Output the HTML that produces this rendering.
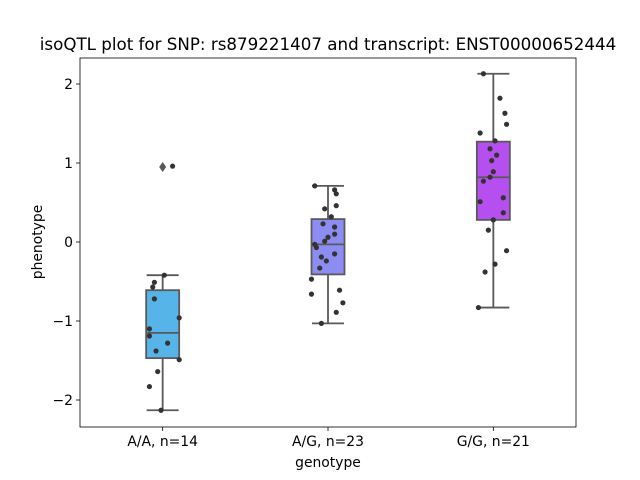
<!DOCTYPE html>
<html><head><meta charset="utf-8"><style>
html,body{margin:0;padding:0;background:#fff;}
svg{display:block;font-family:"DejaVu Sans","Liberation Sans",sans-serif;}
</style></head><body>
<svg id="chart" width="640" height="480" viewBox="0 0 640 480" xmlns="http://www.w3.org/2000/svg"></svg>
<script>
const categories = ["A/A, n=14", "A/G, n=23", "G/G, n=21"];
const colors = ["#56b4e9", "#8c8cf2", "#b64ff0"];
const q1 = [-1.47, -0.41, 0.28];
const medians = [-1.15, -0.03, 0.82];
const q3 = [-0.61, 0.29, 1.27];
const whiskLow = [-2.13, -1.03, -0.83];
const whiskHigh = [-0.42, 0.71, 2.13];
const outliers = [[0.95], [], []];
const values = [
 [0.96,-0.42,-0.51,-0.57,-0.72,-0.96,-1.10,-1.19,-1.28,-1.38,-1.49,-1.64,-1.83,-2.13],
 [0.71,0.66,0.61,0.46,0.42,0.32,0.23,0.19,0.10,0.06,0.01,-0.03,-0.07,-0.15,-0.19,-0.24,-0.33,-0.47,-0.61,-0.66,-0.77,-0.89,-1.03],
 [2.13,1.82,1.63,1.49,1.38,1.28,1.18,1.10,1.03,0.89,0.82,0.77,0.51,0.56,0.37,0.28,0.15,-0.11,-0.28,-0.38,-0.83]
];
const jitter = [
 [0.06,0.01,-0.05,-0.06,-0.05,0.10,-0.08,-0.08,0.03,-0.04,0.10,-0.03,-0.08,-0.01],
 [-0.08,0.04,0.05,0.05,-0.02,0.02,-0.03,0.04,0.04,0.00,-0.02,-0.08,-0.07,0.04,-0.04,-0.01,-0.05,-0.10,0.07,-0.10,0.09,0.05,-0.04],
 [-0.06,0.04,0.07,0.08,-0.08,0.01,-0.02,0.02,-0.01,0.00,-0.02,-0.06,-0.08,0.06,0.06,0.00,-0.03,0.08,0.01,-0.05,-0.09]
];
const yTicks = [-2, -1, 0, 1, 2];
const yTickLabels = ["\u22122", "\u22121", "0", "1", "2"];

const NS = "http://www.w3.org/2000/svg";
const svg = document.getElementById("chart");
const L = 80, R = 576, T = 58, B = 427;
const bandW = (R - L) / categories.length;
function xScale(i) { return L + bandW * (i + 0.5); }
function yScale(v) { return 242 - v * 79; }
function mk(tag, attrs, parent) {
  const e = document.createElementNS(NS, tag);
  for (const k in attrs) e.setAttribute(k, attrs[k]);
  (parent || svg).appendChild(e);
  return e;
}
const boxW = 33, capW = 16, edge = "#595959";
categories.forEach((c, i) => {
  const cx = xScale(i);
  const g = mk("g", {});
  
  
  mk("line", {x1: cx, x2: cx, y1: yScale(whiskHigh[i]), y2: yScale(q3[i]), stroke: edge, "stroke-width": 1.8}, g);
  mk("line", {x1: cx, x2: cx, y1: yScale(q1[i]), y2: yScale(whiskLow[i]), stroke: edge, "stroke-width": 1.8}, g);
  mk("line", {x1: cx - capW, x2: cx + capW, y1: yScale(whiskHigh[i]), y2: yScale(whiskHigh[i]), stroke: edge, "stroke-width": 1.8}, g);
  mk("line", {x1: cx - capW, x2: cx + capW, y1: yScale(whiskLow[i]), y2: yScale(whiskLow[i]), stroke: edge, "stroke-width": 1.8}, g);
  mk("rect", {x: cx - boxW / 2, y: yScale(q3[i]), width: boxW, height: yScale(q1[i]) - yScale(q3[i]), fill: colors[i], stroke: edge, "stroke-width": 1.8}, g);
  mk("line", {x1: cx - boxW / 2, x2: cx + boxW / 2, y1: yScale(medians[i]), y2: yScale(medians[i]), stroke: edge, "stroke-width": 1.8}, g);
  outliers[i].forEach(v => {
    const y = yScale(v);
    const d = mk("path", {d: `M${cx} ${y-5}L${cx+3.5} ${y}L${cx} ${y+5}L${cx-3.5} ${y}Z`, fill: edge}, g);
    
    
  });
  values[i].forEach((v, j) => {
    const p = mk("circle", {cx: cx + jitter[i][j] * bandW, cy: yScale(v), r: 2.6, fill: "#333333"});
    
    
  });
  mk("line", {x1: cx, x2: cx, y1: B, y2: B + 4, stroke: "#000", "stroke-width": 0.8});
  const t = mk("text", {x: cx, y: B + 19, "text-anchor": "middle", "font-size": 13.9, fill: "#000"});
  t.textContent = c;
  
  
});
yTicks.forEach((v, k) => {
  const y = yScale(v);
  mk("line", {x1: L - 4, x2: L, y1: y, y2: y, stroke: "#000", "stroke-width": 0.8});
  const t = mk("text", {x: L - 7, y: y + 5, "text-anchor": "end", "font-size": 13.9, fill: "#000"});
  t.textContent = yTickLabels[k];
  
  
});
const frame = mk("rect", {x: L, y: T, width: R - L, height: B - T, fill: "none", stroke: "#000", "stroke-width": 0.8});


const title = mk("text", {x: 328, y: 50, "text-anchor": "middle", "font-size": 16.7, fill: "#000"});
title.textContent = "isoQTL plot for SNP: rs879221407 and transcript: ENST00000652444";


const xl = mk("text", {x: 328, y: 467, "text-anchor": "middle", "font-size": 13.9, fill: "#000"});
xl.textContent = "genotype";


const yl = mk("text", {x: 0, y: 0, "text-anchor": "middle", "font-size": 13.9, fill: "#000", transform: "translate(42,242) rotate(-90)"});
yl.textContent = "phenotype";


</script>
</body></html>
